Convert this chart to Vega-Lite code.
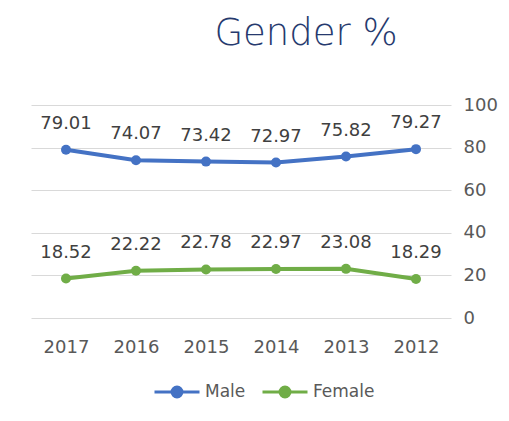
{
  "$schema": "https://vega.github.io/schema/vega-lite/v6.json",
  "width": 420,
  "height": 213,
  "autosize": "none",
  "padding": {"left": 31, "top": 105, "right": 58, "bottom": 103},
  "background": "white",
  "config": {"view": {"stroke": null}, "font": "DejaVu Sans"},
  "title": {
    "text": "Gender %",
    "fontSize": 37,
    "font": "DejaVu Sans",
    "fontWeight": 300,
    "color": "#263A6E",
    "anchor": "middle",
    "dx": 65,
    "baseline": "alphabetic",
    "offset": 14
  },
  "data": {
    "values": [
      {"year": "2017", "series": "Male", "value": 79.01},
      {"year": "2016", "series": "Male", "value": 74.07},
      {"year": "2015", "series": "Male", "value": 73.42},
      {"year": "2014", "series": "Male", "value": 72.97},
      {"year": "2013", "series": "Male", "value": 75.82},
      {"year": "2012", "series": "Male", "value": 79.27},
      {"year": "2017", "series": "Female", "value": 18.52},
      {"year": "2016", "series": "Female", "value": 22.22},
      {"year": "2015", "series": "Female", "value": 22.78},
      {"year": "2014", "series": "Female", "value": 22.97},
      {"year": "2013", "series": "Female", "value": 23.08},
      {"year": "2012", "series": "Female", "value": 18.29}
    ]
  },
  "encoding": {
    "x": {
      "field": "year",
      "type": "ordinal",
      "sort": ["2017", "2016", "2015", "2014", "2013", "2012"],
      "scale": {"type": "point", "padding": 0.5},
      "axis": {
        "title": null,
        "labelAngle": 0,
        "domain": false,
        "ticks": false,
        "grid": false,
        "labelFontSize": 18,
        "labelColor": "#595959",
        "labelPadding": 20,
        "labelFont": "DejaVu Sans"
      }
    },
    "y": {
      "field": "value",
      "type": "quantitative",
      "scale": {"domain": [0, 100], "nice": false},
      "axis": {
        "orient": "right",
        "title": null,
        "values": [0, 20, 40, 60, 80, 100],
        "domain": false,
        "ticks": false,
        "gridColor": "#D9D9D9",
        "gridWidth": 1,
        "labelFontSize": 18,
        "labelColor": "#595959",
        "labelPadding": 12,
        "labelFont": "DejaVu Sans"
      }
    },
    "color": {
      "field": "series",
      "type": "nominal",
      "sort": ["Male", "Female"],
      "scale": {"domain": ["Male", "Female"], "range": ["#4472C4", "#70AD47"]},
      "legend": {
        "title": null,
        "orient": "none",
        "direction": "horizontal",
        "legendX": 122,
        "legendY": 263,
        "symbolType": "M-1,0H1M-0.22,0A0.22,0.22 0 1 1 0.22,0A0.22,0.22 0 1 1 -0.22,0Z",
        "symbolSize": 2025,
        "symbolStrokeWidth": 3,
        "labelFontSize": 17,
        "labelColor": "#595959",
        "labelFont": "DejaVu Sans",
        "columnPadding": 10,
        "labelOffset": 4,
        "encode": {
          "symbols": {"update": {"fill": {"scale": "color", "field": "value"}}}
        }
      }
    }
  },
  "layer": [
    {"mark": {"type": "line", "strokeWidth": 4}},
    {"mark": {"type": "point", "filled": true, "opacity": 1, "size": 100}},
    {
      "mark": {"type": "text", "dy": -26, "fontSize": 18, "color": "#404040", "font": "DejaVu Sans"},
      "encoding": {"text": {"field": "value", "type": "quantitative", "format": ".2f"}, "color": {"value": "#404040"}}
    }
  ]
}
